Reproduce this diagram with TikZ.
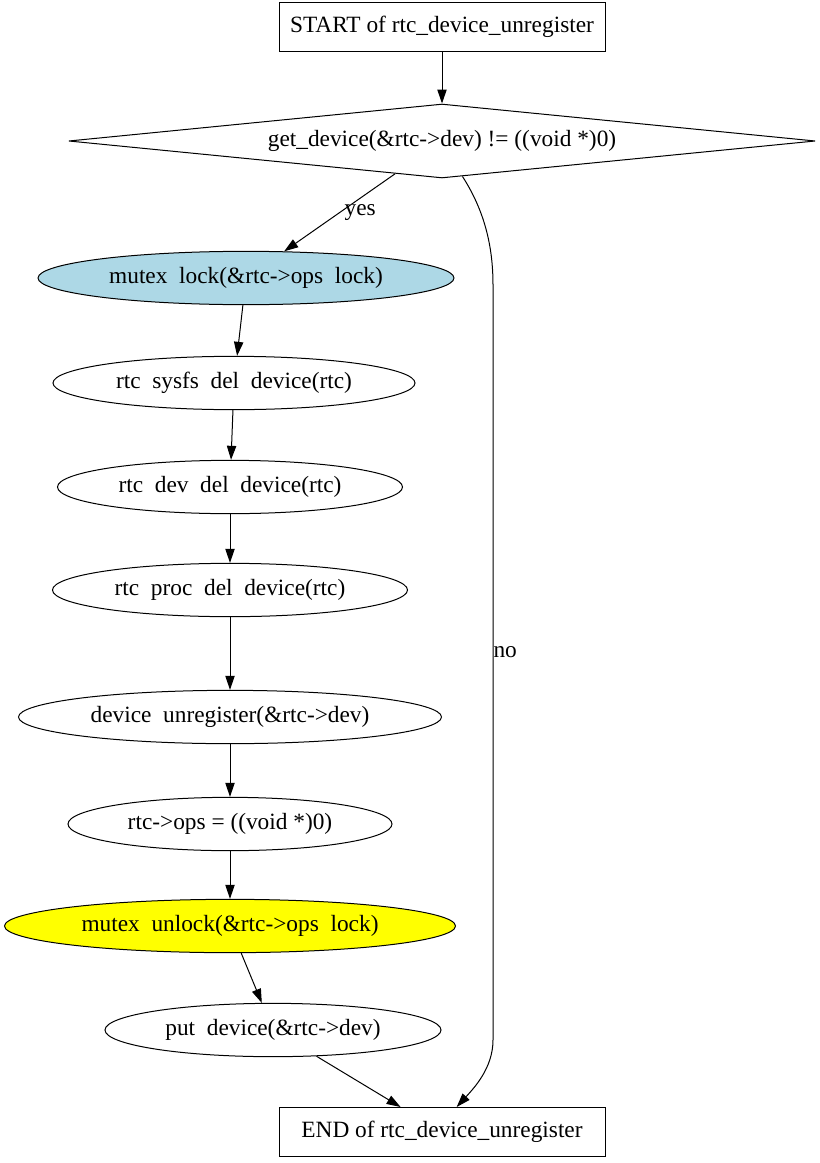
\documentclass[tikz,border=0pt]{standalone}
\usepackage{fontspec}
\setmainfont{Liberation Serif}
\usetikzlibrary{arrows.meta,shapes.geometric}

\definecolor{lightblue}{RGB}{173,216,230}
\definecolor{gvyellow}{RGB}{255,255,0}
\newcommand{\us}{\hspace{0.5em}}

\begin{document}
\begin{tikzpicture}[x=0.75pt, y=-0.75pt, ->, >={Triangle[length=10.5pt,width=7pt]}, line width=0.75pt,
    every node/.style={font=\fontsize{17.5pt}{20pt}\selectfont},
    box/.style={draw, rectangle, minimum width=244.5pt, minimum height=36.75pt, inner sep=0pt},
    test/.style={draw, diamond, aspect=10, minimum width=560pt, minimum height=55.5pt, inner sep=0pt},
    call/.style={draw, ellipse, minimum height=40pt, inner sep=0pt}]
  \path[-, use as bounding box] (0,0) rectangle (819,1163);

  \node[box] (start) at (442,27) {START of rtc\_device\_unregister};
  \node[test] (cond) at (442,141) {get\_device(\&rtc->dev) != ((void *)0)};
  \node[call, fill=lightblue, minimum width=312pt] (lock) at (246,278) {mutex\us lock(\&rtc->ops\us lock)};
  \node[call, minimum width=271.5pt] (sysfs) at (234,383) {rtc\us sysfs\us del\us device(rtc)};
  \node[call, minimum width=258.75pt] (devdel) at (230,487) {rtc\us dev\us del\us device(rtc)};
  \node[call, minimum width=266.25pt] (proc) at (230,590) {rtc\us proc\us del\us device(rtc)};
  \node[call, minimum width=317.25pt] (unreg) at (230,717) {device\us unregister(\&rtc->dev)};
  \node[call, minimum width=243pt] (ops) at (230,824) {rtc->ops = ((void *)0)};
  \node[call, fill=gvyellow, minimum width=338.25pt] (unlock) at (230,926) {mutex\us unlock(\&rtc->ops\us lock)};
  \node[call, minimum width=252pt] (put) at (273,1030) {put\us device(\&rtc->dev)};
  \node[box] (end) at (442,1132) {END of rtc\_device\_unregister};

  \coordinate (noA) at (493,285);
  \coordinate (noB) at (493,1040);

  \path (start) edge (cond)
        (cond) edge node[right] {yes} (lock)
        (lock) edge (sysfs)
        (sysfs) edge (devdel)
        (devdel) edge (proc)
        (proc) edge (unreg)
        (unreg) edge (ops)
        (ops) edge (unlock)
        (unlock) edge (put)
        (put) edge (end);

  \draw (cond.-60) .. controls (484,210) and (493,245) .. (noA)
        -- node[pos=0.486, right, inner sep=0pt] {no} (noB)
        .. controls (493,1068) and (474,1088) .. ([xshift=11pt]end.north);
\end{tikzpicture}
\end{document}
